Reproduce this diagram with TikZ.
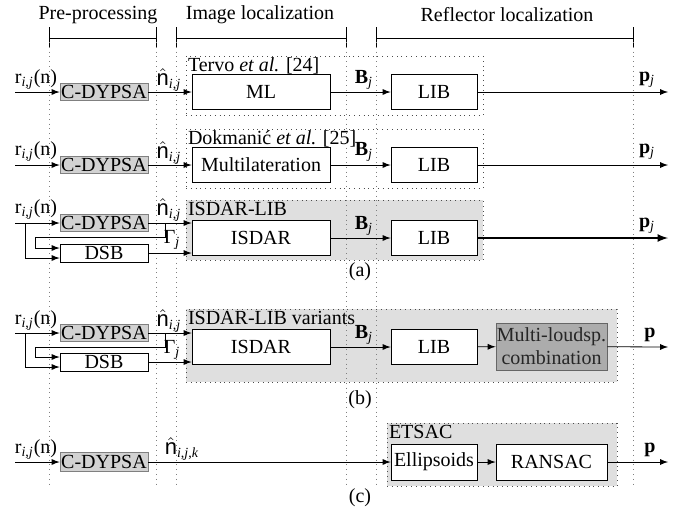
\documentclass[tikz,border=0pt]{standalone}
\usepackage{fontspec}
\setmainfont{Liberation Serif}
\newfontfamily\hatfont{Liberation Sans}
\usepackage{tikz}
\usetikzlibrary{arrows,positioning,calc}

\newcommand{\rij}{r\textsubscript{\textit{i},\textit{j}}(n)}
\newcommand{\hn}{$\hat{\mbox{\hatfont\fontsize{11}{12}\selectfont n}}$}
\newcommand{\nij}{\hn\textsubscript{\textit{i},\textit{j}}}
\newcommand{\Bj}{\textbf{B}\textsubscript{\textit{j}}}
\newcommand{\Gj}{Γ\textsubscript{\textit{j}}}

\tikzset{
  blk/.style={draw, fill=white, inner sep=0pt, minimum width=69pt, minimum height=17.5pt},
  libbox/.style={blk, minimum width=43pt},
  dyp/.style={draw=gray, fill=gray!35, inner sep=0pt, minimum width=44pt, minimum height=8.5pt},
  dsbbox/.style={blk, minimum width=44pt, minimum height=9pt},
  frm/.style={draw=black!70, dotted, inner sep=0pt},
  gfrm/.style={frm, fill=gray!25},
  frmlbl/.style={anchor=north west, inner sep=1pt},
  lbl/.style={inner sep=0pt},
  guide/.style={draw=gray, dotted},
}

\begin{document}
\begin{tikzpicture}[x=0.5pt, y=-0.5pt, >=latex, font=\fontsize{10}{11.5}\selectfont]
\useasboundingbox (0,0) rectangle (674,510);

% stage headers
\node (hpre) at (98,15) {Pre-processing};
\node (himg) at (260,15) {Image localization};
\node (href) at (507,15) {Reflector localization};
\foreach \a/\b in {49/156, 176/346, 376/633} {
  \draw (\a,27) -- (\a,48);
  \draw (\b,27) -- (\b,48);
  \draw (\a,38) -- (\b,38);
}

% frames
\node[frm, minimum width=148.5pt, minimum height=29.5pt] (fr1) at (334.5,85.5) {};
\node[frm, minimum width=148.5pt, minimum height=29.5pt] (fr2) at (334.5,158.5) {};
\node[gfrm, minimum width=148.5pt, minimum height=30pt] (fr3) at (334.5,230) {};
\node[gfrm, minimum width=215.5pt, minimum height=36.5pt] (fr4) at (401.5,345.5) {};
\node[gfrm, minimum width=115pt, minimum height=31.5pt] (fr5) at (502,454.5) {};
\node[frmlbl] (t1) at (fr1.north west) {Tervo \textit{et al.} [24]};
\node[frmlbl] (t2) at (fr2.north west) {Dokmanić \textit{et al.} [25]};
\node[frmlbl] (t3) at (fr3.north west) {ISDAR-LIB};
\node[frmlbl] (t4) at (fr4.north west) {ISDAR-LIB variants};
\node[frmlbl] (t5) at (fr5.north west) {ETSAC};

% stage borders
\foreach \x in {49,156,176,346,376,633}
  \draw[guide] (\x,42) -- (\x,488);

% (a) Tervo
\node[dyp] (c1) at (104,92) {C-DYPSA};
\node[blk] (ml1) at (261,92) {ML};
\node[libbox] (lib1) at (434,92) {LIB};
\coordinate (in1) at (15,92);
\coordinate (out1) at (668,92);
\draw[->] (in1) -- (c1);
\draw[->] (c1) -- (ml1);
\draw[->] (ml1) -- (lib1);
\draw[->] (lib1) -- (out1);
\node[lbl] (r1) at (36,80) {\rij};
\node[lbl] (n1) at (169,80) {\nij};
\node[lbl] (b1) at (364,80) {\Bj};
\node[lbl] (p1) at (647,80) {\textbf{p}\textsubscript{\textit{j}}};

% (a) Dokmanic
\node[dyp] (c2) at (104,165) {C-DYPSA};
\node[blk] (ml2) at (261,165) {Multilateration};
\node[libbox] (lib2) at (434,165) {LIB};
\coordinate (in2) at (15,165);
\coordinate (out2) at (668,165);
\draw[->] (in2) -- (c2);
\draw[->] (c2) -- (ml2);
\draw[->] (ml2) -- (lib2);
\draw[->] (lib2) -- (out2);
\node[lbl] (r2) at (36,152) {\rij};
\node[lbl] (n2) at (169,153) {\nij};
\node[lbl] (b2) at (364,152) {\Bj};
\node[lbl] (p2) at (647,152) {\textbf{p}\textsubscript{\textit{j}}};

% (a) ISDAR-LIB
\node[dyp] (c3) at (104,223) {C-DYPSA};
\node[dsbbox] (dsb3) at (104,253) {DSB};
\node[blk] (isd3) at (261,238) {ISDAR};
\node[libbox] (lib3) at (434,238) {LIB};
\coordinate (in3) at (15,223);
\coordinate (j3) at (25,223);
\coordinate (k3) at (165,223);
\coordinate (out3) at (668,238);
\draw[->] (in3) -- (c3);
\draw[->] (c3) -- (c3 -| isd3.west);
\draw[->] (k3) |- (35,237) |- ($(dsb3.west)+(0,-5)$);
\draw[->] (j3) |- ($(dsb3.west)+(0,5)$);
\draw[->] (dsb3) -- (dsb3 -| isd3.west);
\draw[->] (isd3) -- (lib3);
\draw[->, line width=0.8pt] (lib3) -- (out3);
\node[lbl] (r3) at (36,210) {\rij};
\node[lbl] (n3) at (169,210) {\nij};
\node[lbl] (g3) at (172,240) {\Gj};
\node[lbl] (b3) at (364,226) {\Bj};
\node[lbl] (p3) at (647,226) {\textbf{p}\textsubscript{\textit{j}}};
\node (la) at (360,272) {(a)};

% (b) variants
\node[dyp] (c4) at (104,333) {C-DYPSA};
\node[dsbbox] (dsb4) at (104,362) {DSB};
\node[blk] (isd4) at (261,347) {ISDAR};
\node[libbox] (lib4) at (434,347) {LIB};
\node[draw=black!60, fill=gray!65, text=black!85, inner sep=0pt, minimum width=55.5pt,
      minimum height=23.5pt, align=center] (mlc4) at (551.5,346.5) {Multi-loudsp.\\combination};
\coordinate (in4) at (15,333);
\coordinate (j4) at (25,333);
\coordinate (k4) at (165,333);
\coordinate (out4) at (668,347);
\draw[->] (in4) -- (c4);
\draw[->] (c4) -- (c4 -| isd4.west);
\draw[->] (k4) |- (35,347) |- ($(dsb4.west)+(0,-5)$);
\draw[->] (j4) |- ($(dsb4.west)+(0,5)$);
\draw[->] (dsb4) -- (dsb4 -| isd4.west);
\draw[->] (isd4) -- (lib4);
\draw[->] (lib4) -- (mlc4);
\draw[->] (mlc4) -- (out4);
\node[lbl] (r4) at (36,321) {\rij};
\node[lbl] (n4) at (169,321) {\nij};
\node[lbl] (g4) at (172,350) {\Gj};
\node[lbl] (b4) at (364,335) {\Bj};
\node[lbl] (p4) at (650,335) {\textbf{p}};
\node (lb) at (360,400) {(b)};

% (c) ETSAC
\node[dyp, minimum height=9.5pt] (c5) at (104,462) {C-DYPSA};
\node[libbox, minimum height=18pt] (ell5) at (434,462) {Ellipsoids};
\node[blk, minimum width=55.5pt, minimum height=18pt] (ran5) at (551.5,462) {RANSAC};
\coordinate (in5) at (15,462);
\coordinate (out5) at (668,462);
\draw[->] (in5) -- (c5);
\draw[->] (c5) -- (ell5);
\draw[->] (ell5) -- (ran5);
\draw[->] (ran5) -- (out5);
\node[lbl] (r5) at (36,450) {\rij};
\node[lbl] (n5) at (182,449) {\hn\textsubscript{\textit{i},\textit{j},\textit{k}}};
\node[lbl] (p5) at (650,450) {\textbf{p}};
\node (lc) at (360,498) {(c)};

\end{tikzpicture}
\end{document}
